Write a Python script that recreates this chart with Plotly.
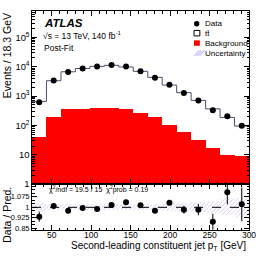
import plotly.graph_objects as go

# ---------------- data ----------------
x_centers = [34.17, 52.5, 70.83, 89.17, 107.5, 125.83, 144.17, 162.5,
             180.83, 199.17, 217.5, 235.83, 254.17, 272.5, 290.83]
x_edges = [25, 43.33, 61.67, 80, 98.33, 116.67, 135, 153.33, 171.67,
           190, 208.33, 226.67, 245, 263.33, 281.67, 300]
bin_width = 18.34

data_counts = [616, 3380, 6600, 8700, 10200, 11400, 10200, 7100, 4260,
               2450, 1290, 705, 330, 208, 98]
pred_total = [660, 3350, 6762, 8744, 10324, 11220, 9846, 7002, 4365,
              2372, 1312, 717, 368, 188, 96]
background = [42, 191, 357, 377, 398, 398, 377, 276, 197, 108, 58, 33,
              17, 9.8, 8.9]
ratio = [0.933, 1.009, 0.976, 0.995, 0.988, 1.016, 1.036, 1.014, 0.976,
         1.033, 0.983, 0.983, 0.897, 1.107, 1.021]
ratio_err = [0.036, 0.015, 0.012, 0.011, 0.01, 0.01, 0.01, 0.012, 0.015,
             0.02, 0.028, 0.04, 0.057, 0.086, 0.12]
rel_unc = [0.028, 0.024, 0.022, 0.021, 0.021, 0.021, 0.021, 0.022, 0.024,
           0.027, 0.032, 0.038, 0.045, 0.055, 0.068]

ratio_ticks = [0.85, 0.925, 1, 1.075]
ratio_ticklabels = ["0.85", "0.925", "1", "1.075"]

FONT = "Liberation Sans, Arial, Helvetica, sans-serif"
W, H = 266, 257
ML, MR, MT, MB = 32, 11, 10, 27
PW, PH = W - ML - MR, H - MT - MB
split_px = 184  # boundary between main and ratio pads


def px(xp):
    return (xp - ML) / PW


def py(yp):
    return (H - MB - yp) / PH


ratio_top = py(split_px)

hatch = dict(shape="/", fgcolor="rgba(90,90,235,0.75)",
             bgcolor="rgba(255,255,255,0)", size=3, solidity=0.25)

fig = go.Figure()

# main: background (red)
fig.add_trace(go.Bar(x=x_centers, y=background, width=bin_width,
                     marker=dict(color="#ff0000", line_width=0),
                     xaxis="x", yaxis="y", showlegend=False))
# main: uncertainty band
fig.add_trace(go.Bar(x=x_centers,
                     y=[p * 2 * u for p, u in zip(pred_total, rel_unc)],
                     base=[p * (1 - u) for p, u in zip(pred_total, rel_unc)],
                     width=bin_width,
                     marker=dict(color="rgba(0,0,0,0)", line_width=0,
                                 pattern=hatch),
                     xaxis="x", yaxis="y", showlegend=False))
# main: total prediction step line
fig.add_trace(go.Scatter(x=x_edges, y=pred_total + [pred_total[-1]],
                         mode="lines", line=dict(color="#4a5070", width=1,
                                                 shape="hv"),
                         xaxis="x", yaxis="y", showlegend=False))
# main: data
fig.add_trace(go.Scatter(x=x_centers, y=data_counts, mode="markers",
                         marker=dict(color="black", size=6),
                         xaxis="x", yaxis="y", showlegend=False))

# ratio: uncertainty band
fig.add_trace(go.Bar(x=x_centers, y=[2 * u for u in rel_unc],
                     base=[1 - u for u in rel_unc], width=bin_width,
                     marker=dict(color="rgba(0,0,0,0)", line_width=0,
                                 pattern=hatch),
                     xaxis="x2", yaxis="y2", showlegend=False))
# ratio: data/pred
fig.add_trace(go.Scatter(x=x_centers, y=ratio, mode="markers",
                         marker=dict(color="black", size=6),
                         error_y=dict(type="data", array=ratio_err,
                                      color="black", thickness=1, width=0),
                         xaxis="x2", yaxis="y2", showlegend=False))

axis_common = dict(showline=True, linecolor="black", linewidth=1,
                   mirror="allticks", ticks="inside", tickcolor="black",
                   showgrid=False, zeroline=False)

fig.update_layout(
    width=W, height=H,
    margin=dict(l=ML, r=MR, t=MT, b=MB, pad=0),
    paper_bgcolor="white", plot_bgcolor="white",
    barmode="overlay", bargap=0,
    font=dict(family=FONT, color="black"),
    showlegend=False,
    xaxis=dict(domain=[0, 1], anchor="y", range=[25, 300], dtick=50,
               tick0=0, ticklen=5, showticklabels=False,
               minor=dict(ticks="inside", dtick=10, ticklen=2.5,
                          tickcolor="black"),
               **axis_common),
    yaxis=dict(domain=[ratio_top, 1], anchor="x", type="log",
               range=[0, 5.9], dtick=1, exponentformat="power",
               ticklen=5, tickfont=dict(size=7.5),
               minor=dict(ticks="inside", dtick="D1", ticklen=2.5,
                          tickcolor="black"),
               **axis_common),
    xaxis2=dict(domain=[0, 1], anchor="y2", range=[25, 300], dtick=50,
                tick0=0, ticklen=5, matches="x",
                tickfont=dict(size=8.5), ticklabelstandoff=-3,
                minor=dict(ticks="inside", dtick=10, ticklen=2.5,
                           tickcolor="black"),
                **axis_common),
    yaxis2=dict(domain=[0, ratio_top], anchor="x2", range=[0.838, 1.165],
                tickmode="array", tickvals=ratio_ticks,
                ticktext=ratio_ticklabels, ticklen=5,
                tickfont=dict(size=7.5),
                minor=dict(ticks="inside", dtick=0.025, tick0=0.85,
                           ticklen=2.5, tickcolor="black"),
                **axis_common),
)

# dashed line at 1 in ratio panel
fig.add_shape(type="line", xref="x2", yref="y2", x0=25, x1=300, y0=1,
              y1=1, line=dict(color="black", width=1, dash="dash"))

annotations = [
    dict(x=px(42), y=py(22.5), text="<b><i>ATLAS</i></b>",
         font=dict(size=11.5), xanchor="left", yanchor="middle"),
    dict(x=px(41.5), y=py(34.5), text="√s = 13 TeV, 140 fb<sup>-1</sup>",
         font=dict(size=8.5), xanchor="left", yanchor="middle"),
    dict(x=px(42), y=py(47.5), text="Post-Fit", font=dict(size=8.5),
         xanchor="left", yanchor="middle"),
    dict(x=px(208), y=py(22.7), text="Data", font=dict(size=8),
         xanchor="left", yanchor="middle"),
    dict(x=px(208), y=py(32.3), text="tt\u0304",
         font=dict(size=8), xanchor="left", yanchor="middle"),
    dict(x=px(208), y=py(42.5), text="Background", font=dict(size=8),
         xanchor="left", yanchor="middle"),
    dict(x=px(208), y=py(52.5), text="Uncertainty", font=dict(size=8),
         xanchor="left", yanchor="middle"),
    dict(x=px(47), y=py(189), text="χ<sup>2</sup>/ndf = 19.5 / 15  χ<sup>2</sup>prob = 0.19",
         font=dict(size=7), xanchor="left", yanchor="middle"),
    dict(x=px(6), y=py(10), text="Events / 18.3 GeV", textangle=-90,
         font=dict(size=10.5), xanchor="center", yanchor="top"),
    dict(x=px(6), y=py(215), text="Data / Pred.", textangle=-90,
         font=dict(size=10.5), xanchor="center", yanchor="middle"),
    dict(x=px(254), y=py(246),
         text="Second-leading constituent jet p<sub>T</sub> [GeV]",
         font=dict(size=10), xanchor="right", yanchor="middle"),
]
for a in annotations:
    a.update(xref="paper", yref="paper", showarrow=False)
    fig.add_annotation(**a)

# legend symbols
fig.add_shape(type="circle", xref="paper", yref="paper",
              x0=px(198.5), x1=px(204), y0=py(25.5), y1=py(20),
              fillcolor="black", line=dict(color="black", width=0))
fig.add_shape(type="rect", xref="paper", yref="paper",
              x0=px(198.5), x1=px(204.5), y0=py(35), y1=py(29.5),
              fillcolor="white", line=dict(color="black", width=1))
fig.add_shape(type="rect", xref="paper", yref="paper",
              x0=px(198.5), x1=px(204.5), y0=py(45), y1=py(39.5),
              fillcolor="#ff0000", line=dict(color="#ff0000", width=0))
for k in range(4):
    x0 = 198.5 + k * 2
    fig.add_shape(type="line", xref="paper", yref="paper",
                  x0=px(x0), y0=py(55), x1=px(x0 + 5), y1=py(49.5),
                  line=dict(color="rgba(90,90,235,0.6)", width=0.8))

fig.write_html("out.html", config={"displayModeBar": False},
               post_script="document.body.style.margin='0';document.body.style.overflow='hidden';")
